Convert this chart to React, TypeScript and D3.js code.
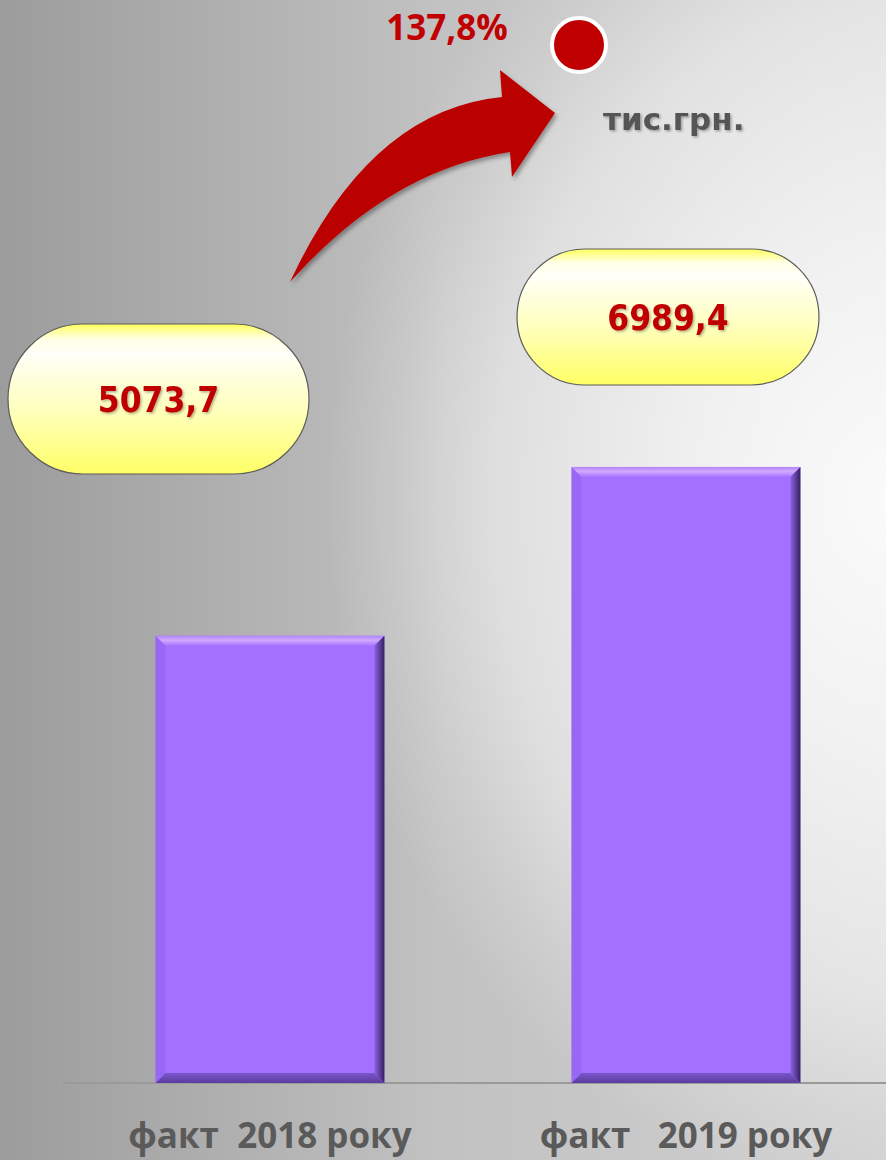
import React from 'react';
import * as d3 from 'd3';

// chart data
const categories = ['факт  2018 року', 'факт   2019 року'];
const values = [5073.7, 6989.4];
const valueLabels = ['5073,7', '6989,4'];
const growthLabel = '137,8%';
const unitLabel = 'тис.грн.';

const W = 886;
const H = 1160;
const baseY = 1083;

// where the rounded value boxes sit (layout, not data)
const pillBoxes = [
  { cx: 158.5, cy: 399, w: 301, h: 150 },
  { cx: 668, cy: 317, w: 302, h: 136 },
];

const App = () => {
  const x = d3.scaleBand<string>()
    .domain(categories)
    .range([62, 894])
    .paddingInner(0.45)
    .paddingOuter(0.225);

  const y = d3.scaleLinear()
    .domain([0, 7000])
    .range([baseY, baseY - 617]);

  const bw = x.bandwidth();
  const b = 10; // bevel size

  // curved growth arrow
  const arrow = d3.path();
  arrow.moveTo(290, 282);
  arrow.quadraticCurveTo(370, 110, 502, 97);
  arrow.lineTo(500, 70);
  arrow.lineTo(555, 113);
  arrow.lineTo(512, 177);
  arrow.lineTo(510, 152);
  arrow.quadraticCurveTo(390, 170, 290, 282);
  arrow.closePath();

  return (
    <svg width={W} height={H} style={{ position: 'absolute', left: 0, top: 0, display: 'block' }}>
      <defs>
        <linearGradient id="bg" x1="0" y1="0" x2="1" y2="0">
          <stop offset="0" stopColor="#9c9c9c" />
          <stop offset="0.5" stopColor="#c2c2c2" />
          <stop offset="1" stopColor="#d0d0d0" />
        </linearGradient>
        <radialGradient id="glow" gradientUnits="userSpaceOnUse" cx={886} cy={500} r={700}
          gradientTransform="translate(886 500) scale(0.8 1) translate(-886 -500)">
          <stop offset="0" stopColor="#ffffff" stopOpacity="0.9" />
          <stop offset="0.35" stopColor="#ffffff" stopOpacity="0.72" />
          <stop offset="0.7" stopColor="#ffffff" stopOpacity="0.45" />
          <stop offset="0.88" stopColor="#ffffff" stopOpacity="0.15" />
          <stop offset="1" stopColor="#ffffff" stopOpacity="0" />
        </radialGradient>
        <linearGradient id="pill" x1="0" y1="0" x2="0" y2="1">
          <stop offset="0" stopColor="#ffff5a" />
          <stop offset="0.1" stopColor="#ffffe6" />
          <stop offset="0.2" stopColor="#fffff8" />
          <stop offset="0.6" stopColor="#ffffb8" />
          <stop offset="1" stopColor="#ffff66" />
        </linearGradient>
        <linearGradient id="bevTop" x1="0" y1="0" x2="0" y2="1">
          <stop offset="0" stopColor="#b186ff" />
          <stop offset="0.45" stopColor="#d2a8ff" />
          <stop offset="1" stopColor="#a774ff" />
        </linearGradient>
        <linearGradient id="bevRight" x1="0" y1="0" x2="1" y2="0">
          <stop offset="0" stopColor="#8e62e6" />
          <stop offset="1" stopColor="#35205f" />
        </linearGradient>
        <linearGradient id="bevBottom" x1="0" y1="0" x2="0" y2="1">
          <stop offset="0" stopColor="#7b56cc" />
          <stop offset="1" stopColor="#5a3c9e" />
        </linearGradient>
        <filter id="shadow" x="-20%" y="-20%" width="140%" height="140%">
          <feDropShadow dx="2" dy="3" stdDeviation="2" floodColor="#000" floodOpacity="0.35" />
        </filter>
        <filter id="tshadow" x="-10%" y="-20%" width="130%" height="150%">
          <feDropShadow dx="1.5" dy="1.5" stdDeviation="1.2" floodColor="#000" floodOpacity="0.3" />
        </filter>
      </defs>

      <rect width={W} height={H} fill="url(#bg)" />
      <rect width={W} height={H} fill="url(#glow)" />

      {/* baseline */}
      <line x1={62} x2={W} y1={baseY} y2={baseY} stroke="#9a9a9a" strokeWidth={2} />

      {/* bars */}
      {categories.map((c, i) => {
        const x0 = x(c) as number;
        const y0 = y(values[i]);
        const h = baseY - y0;
        const x1 = x0 + bw;
        const y1 = y0 + h;
        return (
          <g key={c}>
            <rect x={x0} y={y0} width={bw} height={h} fill="#a371ff" />
            <polygon points={`${x0},${y0} ${x0 + b},${y0 + b} ${x0 + b},${y1 - b} ${x0},${y1}`} fill="#9868f4" />
            <polygon points={`${x0},${y0} ${x1},${y0} ${x1 - b},${y0 + b} ${x0 + b},${y0 + b}`} fill="url(#bevTop)" />
            <polygon points={`${x1},${y0} ${x1},${y1} ${x1 - b},${y1 - b} ${x1 - b},${y0 + b}`} fill="url(#bevRight)" />
            <polygon points={`${x0},${y1} ${x1},${y1} ${x1 - b},${y1 - b} ${x0 + b},${y1 - b}`} fill="url(#bevBottom)" />
          </g>
        );
      })}

      {/* category labels */}
      {categories.map((c) => (
        <text
          key={c}
          x={(x(c) as number) + bw / 2}
          y={1148}
          textAnchor="middle"
          fontFamily="'Open Sans', sans-serif"
          fontWeight={700}
          fontSize={35}
          fill="#5a5a5a"
          style={{ whiteSpace: 'pre' }}
        >
          {c}
        </text>
      ))}

      {/* value boxes */}
      {pillBoxes.map((p, i) => (
        <g key={i}>
          <rect
            x={p.cx - p.w / 2}
            y={p.cy - p.h / 2}
            width={p.w}
            height={p.h}
            rx={p.h / 2}
            ry={p.h / 2}
            fill="url(#pill)"
            stroke="#5c5c5c"
            strokeWidth={1.2}
          />
          <text
            x={p.cx}
            y={p.cy + 13}
            textAnchor="middle"
            fontFamily="'DejaVu Sans Condensed', 'DejaVu Sans', sans-serif"
            fontStretch="condensed"
            fontWeight={700}
            fontSize={35}
            fill="#c00000"
            filter="url(#tshadow)"
          >
            {valueLabels[i]}
          </text>
        </g>
      ))}

      {/* growth arrow */}
      <path d={arrow.toString()} fill="#bb0000" filter="url(#shadow)" />

      <text
        x={447}
        y={40}
        textAnchor="middle"
        fontFamily="'Open Sans', sans-serif"
        fontWeight={700}
        fontSize={35}
        fill="#c00000"
      >
        {growthLabel}
      </text>

      <circle cx={579} cy={45} r={27} fill="#c00000" stroke="#ffffff" strokeWidth={4} />

      <text
        x={603}
        y={130}
        fontFamily="'DejaVu Sans', sans-serif"
        fontWeight={700}
        fontSize={31}
        fill="#555555"
        filter="url(#tshadow)"
      >
        {unitLabel}
      </text>
    </svg>
  );
};

export default App;
